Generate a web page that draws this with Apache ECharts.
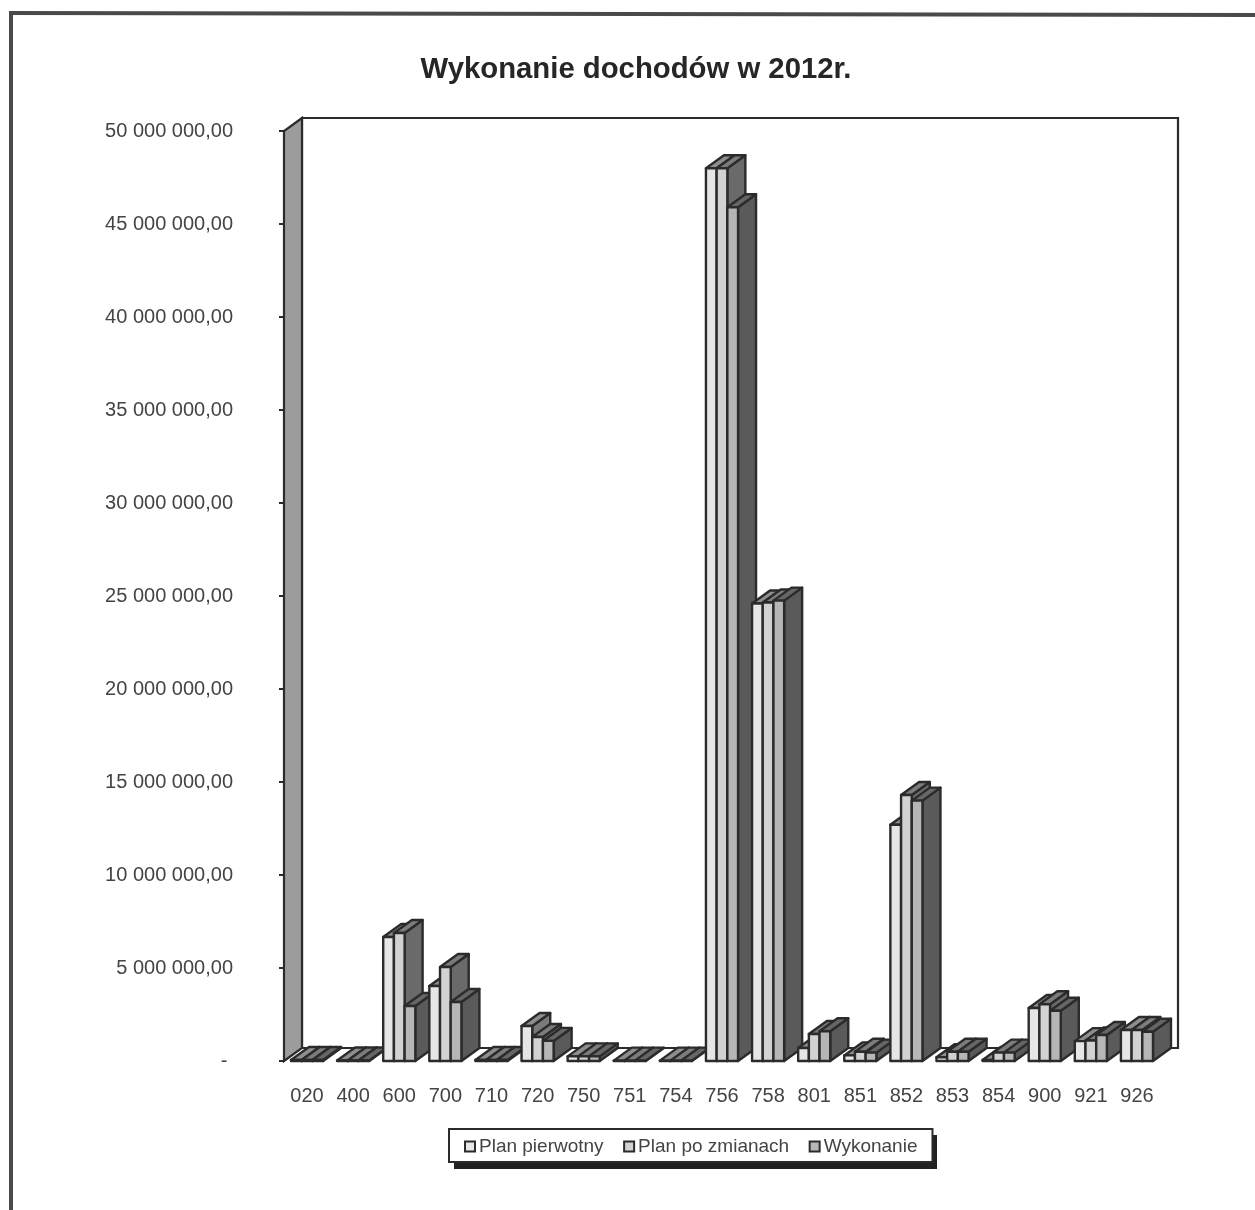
<!DOCTYPE html>
<html><head><meta charset="utf-8">
<style>html,body{margin:0;padding:0;background:#fff}#main{width:1255px;height:1210px;filter:blur(0.65px)}</style>
<script src="https://cdn.jsdelivr.net/npm/echarts@6/dist/echarts.min.js"></script>
</head><body><div id="main"></div>
<script>
const categories = ['020','400','600','700','710','720','750','751','754','756','758','801','851','852','853','854','900','921','926'];
const planPierwotny = [50000,30000,6670000,4030000,50000,1880000,250000,20000,20000,48000000,24600000,700000,300000,12700000,200000,50000,2850000,1070000,1670000];
const planPoZmianach = [50000,30000,6880000,5050000,50000,1290000,250000,20000,20000,48000000,24650000,1450000,500000,14300000,500000,450000,3050000,1100000,1670000];
const wykonanie = [50000,30000,2960000,3170000,50000,1080000,250000,20000,20000,45900000,24750000,1600000,450000,14000000,500000,450000,2700000,1400000,1570000];
const seriesNames = ['Plan pierwotny','Plan po zmianach','Wykonanie'];
const frontColors = ['#e6e6e6','#d2d2d2','#b6b6b6'];
const topColors = ['#8e8e8e','#7c7c7c','#666666'];
const sideColors = ['#7a7a7a','#6a6a6a','#5a5a5a'];
const yTicks = {min:0,max:50000000,interval:5000000};
const DX = 18, DY = 13, LINE = '#2b2b2b';

function fmt(v){
  if(v===0) return '- ';
  return String(v).replace(/\B(?=(\d{3})+$)/g,' ')+',00';
}
function barRender(s){
  return function(params, api){
    const i = api.value(0), v = api.value(1);
    const top = api.coord([i,v]), base = api.coord([i,0]);
    const band = api.size([1,0])[0], w = band*0.232;
    const x0 = top[0]-1.5*w+s*w, x1 = x0+w, yT = top[1], yB = base[1];
    const z2 = 10+i*3+s;
    const st = (c)=>({fill:c,stroke:LINE,lineWidth:2.4,lineJoin:'round'});
    return {type:'group',children:[
      {type:'polygon',z2,shape:{points:[[x1,yB],[x1+DX,yB-DY],[x1+DX,yT-DY],[x1,yT]]},style:st(sideColors[s])},
      {type:'polygon',z2,shape:{points:[[x0,yT],[x1,yT],[x1+DX,yT-DY],[x0+DX,yT-DY]]},style:st(topColors[s])},
      {type:'polygon',z2,shape:{points:[[x0,yB],[x1,yB],[x1,yT],[x0,yT]]},style:st(frontColors[s])}
    ]};
  };
}
function wallRender(params, api){
  const band = api.size([1,0])[0];
  const n = categories.length;
  const a = api.coord([0,0]), b = api.coord([n-1,0]), t = api.coord([0,yTicks.max]);
  const xL = a[0]-band/2, xR = b[0]+band/2, yB = a[1], yT = t[1];
  return {type:'group',children:[
    {type:'polygon',z2:1,shape:{points:[[xL+DX,yB-DY],[xL+DX,yT-DY],[xR+DX,yT-DY],[xR+DX,yB-DY]]},style:{fill:'#fff',stroke:LINE,lineWidth:2.2}},
    {type:'polygon',z2:2,shape:{points:[[xL,yB],[xL,yT],[xL+DX,yT-DY],[xL+DX,yB-DY]]},style:{fill:'#9c9c9c',stroke:LINE,lineWidth:2.2}}
  ]};
}
const arrays = [planPierwotny,planPoZmianach,wykonanie];
const chart = echarts.init(document.getElementById('main'));
chart.setOption({
  animation:false,
  backgroundColor:'#fff',
  graphic:[
    {type:'line',z:0,shape:{x1:9,y1:13,x2:1255,y2:15},style:{stroke:'#4a4a4a',lineWidth:4},silent:true},
    {type:'line',z:0,shape:{x1:11,y1:12,x2:11,y2:1210},style:{stroke:'#4a4a4a',lineWidth:4},silent:true},
    {type:'rect',z:0,shape:{x:454,y:1135,width:483,height:34},style:{fill:'#222'},silent:true}
  ],
  title:{text:'Wykonanie dochodów w 2012r.',left:631,textAlign:'center',top:50,
    textStyle:{fontFamily:'Liberation Sans',fontSize:29.3,fontWeight:'bold',color:'#262626'}},
  grid:{left:284,top:131,width:876,height:930},
  xAxis:{type:'category',data:categories,boundaryGap:true,
    axisLine:{show:false},axisTick:{show:false},
    axisLabel:{interval:0,margin:25,fontFamily:'Liberation Sans',fontSize:20,color:'#444'}},
  yAxis:{type:'value',min:yTicks.min,max:yTicks.max,interval:yTicks.interval,
    splitLine:{show:false},
    axisLine:{show:false},
    axisTick:{show:true,length:5,lineStyle:{color:LINE,width:2}},
    axisLabel:{margin:51,fontFamily:'Liberation Sans',fontSize:20,color:'#444',formatter:fmt}},
  legend:{left:449,top:1129,orient:'horizontal',z:5,
    backgroundColor:'#fff',borderColor:'#2b2b2b',borderWidth:2,
    padding:[8,15,6,15],itemWidth:10,itemHeight:10,itemGap:19.5,
    textStyle:{fontFamily:'Liberation Sans',fontSize:19,color:'#444',padding:[0,0,0,-1]},
    data:seriesNames.map((n,k)=>({name:n,icon:'rect',itemStyle:{color:frontColors[k],borderColor:'#2b2b2b',borderWidth:2}}))},
  series:[
    {type:'custom',name:'walls',silent:true,clip:false,renderItem:wallRender,data:[[0,0]],encode:{x:0,y:1}},
    ...arrays.map((arr,s)=>({
      type:'custom',name:seriesNames[s],clip:false,silent:true,
      renderItem:barRender(s),
      encode:{x:0,y:1},
      itemStyle:{color:frontColors[s]},
      data:arr.map((v,i)=>[i,v])
    }))
  ]
});
</script></body></html>
